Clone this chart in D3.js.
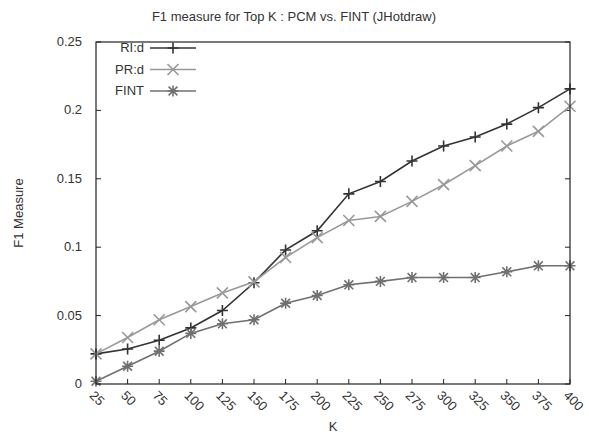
<!DOCTYPE html>
<html>
<head>
<meta charset="utf-8">
<script src="https://cdn.jsdelivr.net/npm/d3@7"></script>
<style>
  body { margin: 0; background: #fff; }
  text { font-family: "Liberation Sans", Arial, sans-serif; font-size: 13px; fill: #333; }
</style>
</head>
<body>
<div id="chart"></div>
<script>
const kValues = [25, 50, 75, 100, 125, 150, 175, 200, 225, 250, 275, 300, 325, 350, 375, 400];
const riD  = [0.022, 0.0256, 0.032, 0.041, 0.0537, 0.074, 0.098, 0.112, 0.139, 0.148, 0.163, 0.174, 0.1806, 0.19, 0.202, 0.2157];
const prD  = [0.022, 0.034, 0.047, 0.0566, 0.0666, 0.0747, 0.0925, 0.107, 0.1195, 0.1225, 0.1335, 0.1457, 0.1596, 0.174, 0.1847, 0.203];
const fint = [0.002, 0.013, 0.024, 0.037, 0.044, 0.047, 0.059, 0.0647, 0.0725, 0.075, 0.0778, 0.0778, 0.0778, 0.082, 0.0864, 0.0864];
const yTicks = [0, 0.05, 0.1, 0.15, 0.2, 0.25];
const yTickLabels = ["0", "0.05", "0.1", "0.15", "0.2", "0.25"];

const width = 589, height = 436;
const margin = { top: 42, right: 19, bottom: 52, left: 96 };

const series = [
  { name: "RI:d", values: riD, color: "#333333", marker: "plus" },
  { name: "PR:d", values: prD, color: "#999999", marker: "cross" },
  { name: "FINT", values: fint, color: "#707070", marker: "star" }
];

const svg = d3.select("#chart").append("svg")
  .attr("width", width)
  .attr("height", height);

const x = d3.scaleLinear().domain([25, 400]).range([margin.left, width - margin.right]);
const y = d3.scaleLinear().domain([0, 0.25]).range([height - margin.bottom, margin.top]);

// marker shapes
function markerPath(type, r) {
  const plus = `M${-r},0L${r},0M0,${-r}L0,${r}`;
  const cross = `M${-r},${-r}L${r},${r}M${-r},${r}L${r},${-r}`;
  if (type === "plus") return plus;
  if (type === "cross") return cross;
  const q = r * 0.8;
  return plus + `M${-q},${-q}L${q},${q}M${-q},${q}L${q},${-q}`;
}

// title
svg.append("text")
  .attr("x", 294).attr("y", 21)
  .attr("text-anchor", "middle")
  .text("F1 measure for Top K : PCM vs. FINT (JHotdraw)");

// y axis ticks + labels (mirrored on right)
const yAxisG = svg.append("g");
yTicks.forEach((t, i) => {
  yAxisG.append("line")
    .attr("x1", x(25)).attr("x2", x(25) + 5)
    .attr("y1", y(t)).attr("y2", y(t))
    .attr("stroke", "#222");
  yAxisG.append("line")
    .attr("x1", x(400)).attr("x2", x(400) - 5)
    .attr("y1", y(t)).attr("y2", y(t))
    .attr("stroke", "#222");
  yAxisG.append("text")
    .attr("x", x(25) - 14).attr("y", y(t) + 4)
    .attr("text-anchor", "end")
    .text(yTickLabels[i]);
});

// x axis ticks + rotated labels
const xAxisG = svg.append("g");
kValues.forEach(k => {
  xAxisG.append("line")
    .attr("x1", x(k)).attr("x2", x(k))
    .attr("y1", y(0)).attr("y2", y(0) - 5)
    .attr("stroke", "#222");
  xAxisG.append("text")
    .attr("transform", `translate(${x(k) - 4},${y(0) + 9}) rotate(45)`)
    .attr("text-anchor", "start")
    .attr("dy", "0.35em")
    .text(k);
});

// axis titles
svg.append("text")
  .attr("x", (x(25) + x(400)) / 2).attr("y", 431)
  .attr("text-anchor", "middle")
  .text("K");
svg.append("text")
  .attr("transform", `translate(23,${(y(0) + y(0.25)) / 2}) rotate(-90)`)
  .attr("text-anchor", "middle")
  .text("F1 Measure");

// lines and markers
const line = d3.line()
  .x((d, i) => x(kValues[i]))
  .y(d => y(d));

series.forEach(s => {
  svg.append("path")
    .datum(s.values)
    .attr("fill", "none")
    .attr("stroke", s.color)
    .attr("stroke-width", 1.6)
    .attr("d", line);
  svg.append("g").selectAll("path")
    .data(s.values)
    .join("path")
    .attr("transform", (d, i) => `translate(${x(kValues[i])},${y(d)})`)
    .attr("d", markerPath(s.marker, 5.5))
    .attr("fill", "none")
    .attr("stroke", s.color)
    .attr("stroke-width", 1.6);
});

// frame
svg.append("rect")
  .attr("x", x(25)).attr("y", y(0.25))
  .attr("width", x(400) - x(25))
  .attr("height", y(0) - y(0.25))
  .attr("fill", "none")
  .attr("stroke", "#222")
  .attr("stroke-width", 1.2);

// legend
const legend = svg.append("g");
series.forEach((s, i) => {
  const ly = 48 + i * 21.5;
  legend.append("text")
    .attr("x", 144).attr("y", ly + 4)
    .attr("text-anchor", "end")
    .text(s.name);
  legend.append("line")
    .attr("x1", 150).attr("x2", 196)
    .attr("y1", ly).attr("y2", ly)
    .attr("stroke", s.color)
    .attr("stroke-width", 1.6);
  legend.append("path")
    .attr("transform", `translate(173,${ly})`)
    .attr("d", markerPath(s.marker, 5.5))
    .attr("fill", "none")
    .attr("stroke", s.color)
    .attr("stroke-width", 1.6);
});
</script>
</body>
</html>
